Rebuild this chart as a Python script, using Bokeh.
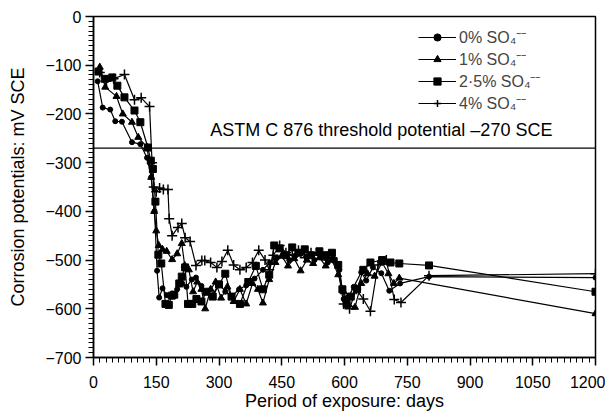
import numpy as np
from bokeh.plotting import figure
from bokeh.models import Span, Label, FixedTicker, Legend, LegendItem
from bokeh.embed import file_html
from bokeh.resources import INLINE

# ---------------- data ----------------
days_0 = [10, 22, 40, 52, 68, 92, 112, 128, 138, 146, 152, 157, 165, 175, 188, 200, 212, 222, 235, 245,
          258, 270, 285, 300, 315, 330, 348, 365, 385, 405, 422, 438, 452, 468, 482, 498, 512, 528, 545,
          560, 575, 588, 598, 610, 622, 640, 652, 668, 688, 707, 733, 802, 1200]
mv_0 = [-133, -187, -191, -215, -216, -258, -262, -290, -330, -400, -522, -577, -558, -572, -569, -560,
        -548, -555, -540, -536, -553, -565, -572, -548, -565, -575, -560, -552, -538, -520, -505, -495,
        -490, -500, -492, -485, -492, -500, -493, -505, -498, -520, -580, -575, -555, -525, -542, -515,
        -527, -563, -548, -534, -536]

days_1 = [15, 28, 55, 70, 92, 107, 128, 138, 145, 150, 156, 165, 175, 188, 200, 211, 218, 228, 238, 248,
          258, 267, 280, 292, 305, 320, 335, 350, 365, 380, 393, 405, 420, 435, 450, 465, 480, 495, 510,
          525, 540, 555, 570, 585, 598, 610, 625, 640, 655, 672, 690, 705, 718, 731, 1200]
mv_1 = [-104, -145, -164, -200, -217, -248, -268, -330, -400, -440, -470, -478, -482, -499, -487, -466,
        -511, -520, -565, -545, -560, -600, -560, -545, -578, -555, -585, -560, -590, -548, -560, -588,
        -540, -505, -492, -512, -497, -522, -500, -507, -495, -512, -500, -530, -565, -592, -597, -548,
        -528, -533, -505, -528, -548, -537, -610]

days_25 = [12, 27, 45, 57, 74, 98, 112, 130, 137, 142, 148, 155, 162, 172, 180, 187, 193, 205, 211, 219,
           226, 236, 246, 258, 270, 285, 300, 315, 330, 350, 370, 388, 405, 420, 432, 445, 460, 475, 490,
           505, 520, 540, 555, 570, 585, 595, 605, 615, 630, 645, 662, 690, 710, 731, 802, 1200]
mv_25 = [-113, -128, -125, -142, -166, -193, -217, -269, -296, -313, -380, -489, -507, -590, -592, -573,
         -571, -548, -534, -515, -590, -590, -580, -585, -565, -575, -550, -528, -575, -590, -545, -512,
         -560, -530, -470, -476, -490, -474, -485, -478, -490, -482, -490, -485, -510, -560, -590, -575,
         -560, -520, -505, -500, -505, -507, -511, -565]

days_4 = [15, 31, 48, 74, 98, 114, 134, 140, 144, 150, 158, 167, 178, 181, 188, 202, 211, 219, 231, 245,
          259, 266, 280, 295, 307, 321, 335, 350, 365, 380, 395, 410, 420, 430, 445, 460, 475, 490, 505,
          520, 540, 555, 570, 582, 598, 612, 628, 645, 662, 680, 700, 719, 735, 802, 1200]
mv_4 = [-115, -133, -128, -119, -171, -167, -185, -300, -350, -360, -352, -355, -355, -415, -450, -433,
        -425, -454, -462, -511, -501, -501, -505, -515, -503, -480, -510, -520, -515, -505, -480, -500,
        -520, -490, -470, -485, -490, -480, -495, -485, -490, -500, -495, -505, -590, -600, -560, -580,
        -605, -510, -500, -581, -587, -532, -528]

series_labels = ["0% SO\u2084\u207b\u207b", "1% SO\u2084\u207b\u207b",
                 "2\u00b75% SO\u2084\u207b\u207b", "4% SO\u2084\u207b\u207b"]

x_ticks = [0, 150, 300, 450, 600, 750, 900, 1050, 1200]
y_ticks = [0, -100, -200, -300, -400, -500, -600, -700]
y_tick_labels = ["0", "\u2212100", "\u2212200", "\u2212300", "\u2212400", "\u2212500", "\u2212600", "\u2212700"]
THRESHOLD = -270
threshold_text = "ASTM C 876 threshold potential \u2013270 SCE"

FONT = "Liberation Sans"

# ---------------- figure ----------------
p = figure(width=605, height=415, x_range=(0, 1200), y_range=(-700, 0),
           output_backend="svg", toolbar_location=None,
           min_border_left=93, min_border_right=10, min_border_top=16, min_border_bottom=58)
p.xgrid.visible = False
p.ygrid.visible = False
p.outline_line_color = "black"
p.outline_line_width = 1.5
p.background_fill_color = "white"
p.border_fill_color = "white"

p.xaxis.ticker = FixedTicker(ticks=x_ticks, minor_ticks=list(np.arange(0, 1201, 15)))
p.yaxis.ticker = FixedTicker(ticks=y_ticks, minor_ticks=list(np.arange(-700, 1, 10)))
p.yaxis.major_label_overrides = {t: l for t, l in zip(y_ticks, y_tick_labels)}

for ax in (p.xaxis[0], p.yaxis[0]):
    ax.axis_line_color = "black"
    ax.axis_line_width = 1.5
    ax.major_tick_line_color = "black"
    ax.minor_tick_line_color = "black"
    ax.major_tick_line_width = 1.5
    ax.minor_tick_line_width = 1
    ax.major_tick_in = 0
    ax.minor_tick_in = 0
    ax.major_tick_out = 8
    ax.minor_tick_out = 5
    ax.major_label_text_font = FONT
    ax.major_label_text_font_size = "16px"
    ax.major_label_text_color = "black"
    ax.axis_label_text_font = FONT
    ax.axis_label_text_font_size = "18px"
    ax.axis_label_text_font_style = "normal"
    ax.axis_label_text_color = "black"

p.xaxis.axis_label = "Period of exposure: days"
p.yaxis.axis_label = "Corrosion potentials: mV SCE"
p.xaxis.major_label_standoff = 10
p.yaxis.major_label_standoff = 4
p.xaxis.axis_label_standoff = 0
p.yaxis.axis_label_standoff = 14

# threshold
p.add_layout(Span(location=THRESHOLD, dimension="width", line_color="black", line_width=1.2))
p.add_layout(Label(x=1097, y=THRESHOLD, text=threshold_text, text_align="right",
                   text_baseline="bottom", y_offset=8, text_font=FONT,
                   text_font_size="18px", text_color="black"))

items = []
specs = [
    (days_0, mv_0, "circle", 5),
    (days_1, mv_1, "triangle", 7),
    (days_25, mv_25, "square", 7),
    (days_4, mv_4, "cross", 10),
]
for (xs, ys, marker, size), lab in zip(specs, series_labels):
    r1 = p.line(xs, ys, line_color="black", line_width=1.2)
    r2 = p.scatter(xs, ys, marker=marker, size=size, fill_color="black",
                   line_color="black", line_width=1.5 if marker == "cross" else 1)
    items.append(LegendItem(label=lab, renderers=[r1, r2]))

legend = Legend(items=items, location=(325, 243), padding=0, margin=0,
                spacing=0, glyph_width=38, glyph_height=18, label_height=18,
                label_standoff=3, label_text_font=FONT, label_text_font_size="16px",
                border_line_alpha=0, background_fill_alpha=0)
p.add_layout(legend)

open("out.html", "w").write(file_html(p, INLINE))
